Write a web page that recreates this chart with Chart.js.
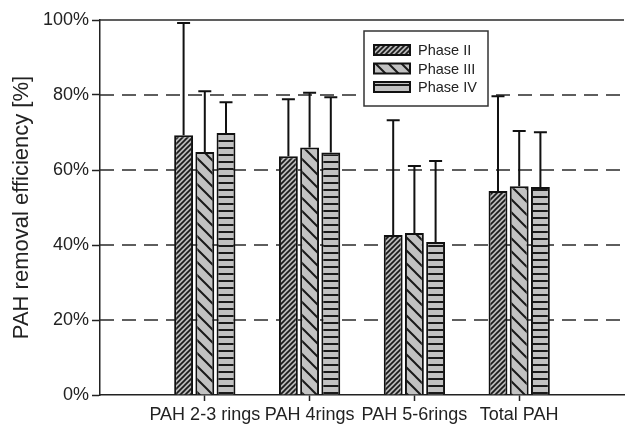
<!DOCTYPE html>
<html>
<head>
<meta charset="utf-8">
<script src="https://cdn.jsdelivr.net/npm/chart.js@4.4.0/dist/chart.umd.min.js"></script>
<style>
  html, body { margin: 0; padding: 0; background: #fff; }
  #wrap { width: 627px; height: 425px; }
</style>
</head>
<body>
<div id="wrap"><canvas id="pahChart"></canvas></div>
<script>
  // data
  const categories = ['PAH 2-3 rings', 'PAH 4rings', 'PAH 5-6rings', 'Total PAH'];
  const phaseNames = ['Phase II', 'Phase III', 'Phase IV'];
  const phase2 = [69.3, 63.7, 42.7, 54.4];
  const phase3 = [64.8, 66.0, 43.2, 55.7];
  const phase4 = [69.9, 64.7, 40.8, 55.5];
  // upper error (standard deviation)
  const phase2Err = [29.9, 15.2, 30.6, 25.3];
  const phase3Err = [16.2, 14.6, 17.9, 14.7];
  const phase4Err = [8.2, 14.7, 21.6, 14.6];
  const yTicks = [0, 20, 40, 60, 80, 100];

  const FONT = '"Liberation Sans", Arial, Helvetica, sans-serif';
  const INK = '#222';
  const GREY = '#c2c2c2';

  const canvas = document.getElementById('pahChart');
  const ctx = canvas.getContext('2d');

  function makePattern(kind) {
    const t = document.createElement('canvas');
    const g = t.getContext('2d');
    if (kind === 'dense') {
      const s = 5;
      t.width = s; t.height = s;
      g.fillStyle = '#b8b8b8'; g.fillRect(0, 0, s, s);
      g.strokeStyle = '#1a1a1a'; g.lineWidth = 1.7;
      g.beginPath();
      g.moveTo(-1, 1); g.lineTo(1, -1);
      g.moveTo(0, s); g.lineTo(s, 0);
      g.moveTo(s - 1, s + 1); g.lineTo(s + 1, s - 1);
      g.stroke();
    } else if (kind === 'back') {
      const s = 13;
      t.width = s; t.height = s;
      g.fillStyle = GREY; g.fillRect(0, 0, s, s);
      g.strokeStyle = '#1a1a1a'; g.lineWidth = 2;
      g.beginPath();
      g.moveTo(-1, -1); g.lineTo(s + 1, s + 1);
      g.moveTo(s - 1, -1); g.lineTo(s + 1, 1);
      g.moveTo(-1, s - 1); g.lineTo(1, s + 1);
      g.stroke();
    } else {
      t.width = 4; t.height = 7;
      g.fillStyle = GREY; g.fillRect(0, 0, 4, 7);
      g.fillStyle = '#1a1a1a'; g.fillRect(0, 0, 4, 2);
    }
    return ctx.createPattern(t, 'repeat');
  }

  const fills = [makePattern('dense'), makePattern('back'), makePattern('horiz')];
  const values = [phase2, phase3, phase4];
  const errors = [phase2Err, phase3Err, phase4Err];

  // empty slots at both ends so the groups sit where the figure puts them
  const labels = [''].concat(categories, ['']);
  const pad = arr => [null].concat(arr, [null]);

  const gridLines = {
    id: 'gridLines',
    beforeDatasetsDraw(chart) {
      const { ctx, chartArea: a, scales: { y } } = chart;
      ctx.save();
      ctx.strokeStyle = '#2a2a2a';
      ctx.lineWidth = 1.5;
      yTicks.forEach(v => {
        if (v === 0) return;
        const py = y.getPixelForValue(v);
        ctx.setLineDash(v === 100 ? [] : [14, 8]);
        ctx.beginPath();
        ctx.moveTo(a.left, py);
        ctx.lineTo(a.right, py);
        ctx.stroke();
      });
      ctx.restore();
    }
  };

  const errorBars = {
    id: 'errorBars',
    afterDatasetsDraw(chart) {
      const { ctx, scales: { y } } = chart;
      ctx.save();
      ctx.strokeStyle = '#111';
      ctx.lineWidth = 2;
      chart.data.datasets.forEach((ds, di) => {
        const meta = chart.getDatasetMeta(di);
        meta.data.forEach((bar, i) => {
          const v = ds.data[i];
          if (v == null) return;
          const top = y.getPixelForValue(v + ds.errUp[i]);
          ctx.beginPath();
          ctx.moveTo(bar.x, bar.y);
          ctx.lineTo(bar.x, top);
          ctx.moveTo(bar.x - 6.5, top);
          ctx.lineTo(bar.x + 6.5, top);
          ctx.stroke();
        });
      });
      ctx.restore();
    }
  };

  const boxLegend = {
    id: 'boxLegend',
    afterDraw(chart) {
      const { ctx, chartArea: a } = chart;
      const left = a.left + 264, top = a.top + 11;
      ctx.save();
      ctx.fillStyle = '#fff';
      ctx.fillRect(left, top, 124, 75);
      ctx.strokeStyle = '#333';
      ctx.lineWidth = 1.5;
      ctx.strokeRect(left, top, 124, 75);
      ctx.font = '14.5px ' + FONT;
      ctx.textBaseline = 'middle';
      chart.data.datasets.forEach((ds, i) => {
        const cy = top + 19 + i * 18.5;
        ctx.fillStyle = ds.backgroundColor;
        ctx.fillRect(left + 10, cy - 5, 36, 10);
        ctx.strokeStyle = '#111';
        ctx.lineWidth = 2;
        ctx.strokeRect(left + 10, cy - 5, 36, 10);
        ctx.fillStyle = INK;
        ctx.fillText(ds.label, left + 54, cy + 1);
      });
      ctx.restore();
    }
  };

  const pahChart = new Chart(canvas, {
    type: 'bar',
    data: {
      labels: labels,
      datasets: phaseNames.map((name, i) => ({
        label: name,
        data: pad(values[i]),
        errUp: pad(errors[i]),
        backgroundColor: fills[i],
        borderColor: '#111',
        borderWidth: 2,
        borderSkipped: 'bottom',
        categoryPercentage: 0.607,
        barPercentage: 0.89
      }))
    },
    options: {
      responsive: true,
      maintainAspectRatio: false,
      animation: false,
      layout: { padding: { top: 20, right: 0, left: 0, bottom: 0 } },
      plugins: {
        legend: { display: false },
        tooltip: { enabled: false }
      },
      scales: {
        x: {
          type: 'category',
          offset: false,
          grid: {
            offset: false,
            drawOnChartArea: false,
            drawTicks: true,
            tickLength: 6,
            tickWidth: 1.5,
            tickColor: c => (labels[c.index] ? INK : 'rgba(0,0,0,0)')
          },
          border: { color: INK, width: 1.5 },
          ticks: {
            autoSkip: false,
            maxRotation: 0,
            color: INK,
            padding: 3,
            font: { family: FONT, size: 18 }
          },
          afterFit: s => { s.height = 30; }
        },
        y: {
          min: 0,
          max: 100,
          ticks: {
            stepSize: 20,
            color: INK,
            padding: 3,
            font: { family: FONT, size: 18 },
            callback: v => v + '%'
          },
          grid: {
            drawOnChartArea: false,
            drawTicks: true,
            tickLength: 8,
            tickWidth: 1.5,
            tickColor: INK
          },
          border: { color: INK, width: 1.5 },
          title: {
            display: true,
            text: 'PAH removal efficiency [%]',
            color: INK,
            font: { family: FONT, size: 22 },
            padding: { top: 9, bottom: 0 }
          },
          afterFit: s => { s.width = 100; }
        }
      }
    },
    plugins: [gridLines, errorBars, boxLegend]
  });
</script>
</body>
</html>
